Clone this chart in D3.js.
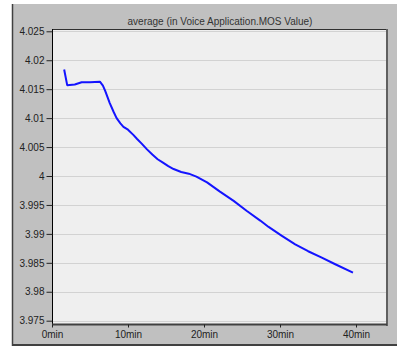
<!DOCTYPE html>
<html>
<head>
<meta charset="utf-8">
<script src="https://cdn.jsdelivr.net/npm/d3@7"></script>
<style>
  body { margin: 0; background: #fff; }
  svg { display: block; }
</style>
</head>
<body>
<svg id="chart" width="397" height="347"></svg>
<script>
// time in minutes, MOS value
const minutes = [1.6, 2.0, 3.0, 3.9, 5.0, 6.3, 6.7, 7.0, 7.6, 8.1, 8.5, 9.0, 9.4, 10.0, 10.7, 11.2,
  11.8, 12.5, 13.2, 13.9, 14.6, 15.3, 16.0, 17.0, 18.0, 19.0, 20.4, 22.1, 23.9, 25.6, 27.4, 28.5,
  30.2, 32.0, 33.7, 35.5, 37.2, 39.6];
const mosValues = [4.0184, 4.0157, 4.0158, 4.0162, 4.0162, 4.0163, 4.0156, 4.0147, 4.0126, 4.0111,
  4.0100, 4.0091, 4.0085, 4.0080, 4.0071, 4.0064, 4.0056, 4.0046, 4.0037, 4.0029, 4.0023, 4.0017,
  4.0012, 4.0007, 4.0004, 3.9999, 3.9989, 3.9973, 3.9957, 3.9940, 3.9923, 3.9912, 3.9897, 3.9882,
  3.9870, 3.9859, 3.9848, 3.9833];
const yTicks = [3.975, 3.98, 3.985, 3.99, 3.995, 4, 4.005, 4.01, 4.015, 4.02, 4.025];
const xTicks = [0, 10, 20, 30, 40];
const title = "average (in Voice Application.MOS Value)";

function drawChart(svgId) {
  let svg = d3.select(svgId);
  let font = "'Liberation Sans', Arial, sans-serif";

  let plotLeft = 52, plotRight = 387, plotTop = 29, plotBottom = 325;

  let x = d3.scaleLinear().domain([0, 40]).range([52, 356]);
  let y = d3.scaleLinear().domain([3.975, 4.025]).range([320.7, 31.3]);

  // outer gray panel
  svg.append("rect")
    .attr("x", 13).attr("y", 4)
    .attr("width", 397 - 13).attr("height", 340)
    .style("fill", "#c0c0c0");
  svg.append("line")
    .attr("x1", 12.5).attr("x2", 12.5).attr("y1", 4).attr("y2", 346)
    .style("stroke", "#404040").style("stroke-width", 1.5);
  svg.append("line")
    .attr("x1", 12).attr("x2", 397).attr("y1", 345).attr("y2", 345)
    .style("stroke", "#404040").style("stroke-width", 2);

  // plot background
  svg.append("rect")
    .attr("x", plotLeft).attr("y", plotTop)
    .attr("width", plotRight - plotLeft).attr("height", plotBottom - plotTop)
    .style("fill", "#efefef");

  // horizontal grid lines
  svg.selectAll(".grid")
    .data(yTicks)
    .enter()
    .append("line")
    .attr("class", "grid")
    .attr("x1", plotLeft).attr("x2", plotRight - 1)
    .attr("y1", d => Math.round(y(d)) + 0.5)
    .attr("y2", d => Math.round(y(d)) + 0.5)
    .style("stroke", "#d2d2d2");

  // plot borders
  svg.append("line")
    .attr("x1", plotLeft).attr("x2", plotRight).attr("y1", plotTop + 0.5).attr("y2", plotTop + 0.5)
    .style("stroke", "#303030");
  svg.append("line")
    .attr("x1", plotRight).attr("x2", plotRight).attr("y1", plotTop).attr("y2", plotBottom + 1)
    .style("stroke", "#606060").style("stroke-width", 2);

  // y axis
  svg.append("g")
    .attr("transform", "translate(" + (plotLeft + 0.5) + ",0)")
    .call(d3.axisLeft(y).tickValues(yTicks).tickSize(6).tickPadding(2)
      .tickFormat(d => d3.format("")(+d.toFixed(3))))
    .call(g => g.select(".domain").attr("d", "M0," + plotTop + "V" + plotBottom).style("stroke", "#000"))
    .call(g => g.selectAll(".tick line").style("stroke", "#222"))
    .selectAll("text")
      .style("font-family", font)
      .style("font-size", "10px")
      .style("fill", "#222");

  // x axis
  svg.append("g")
    .attr("transform", "translate(0," + (plotBottom - 0.5) + ")")
    .call(d3.axisBottom(x).tickValues(xTicks).tickSize(3).tickPadding(3)
      .tickFormat(d => d + "min"))
    .call(g => g.select(".domain").attr("d", "M" + plotLeft + ",0H" + plotRight)
      .style("stroke", "#404040").style("stroke-width", 2))
    .call(g => g.selectAll(".tick line").style("stroke", "#222"))
    .selectAll("text")
      .style("font-family", font)
      .style("font-size", "10px")
      .style("fill", "#222");

  // title
  svg.append("text")
    .attr("x", 220)
    .attr("y", 25)
    .text(title)
    .style("font-family", font)
    .style("text-anchor", "middle")
    .style("font-size", "10px")
    .style("fill", "#333");

  // data line
  let line = d3.line()
    .x((d, i) => x(minutes[i]))
    .y(d => y(d));

  svg.append("path")
    .datum(mosValues)
    .attr("d", line)
    .style("fill", "none")
    .style("stroke", "#1414ff")
    .style("stroke-width", 2)
    .style("stroke-linejoin", "round");
}

drawChart("#chart");
</script>
</body>
</html>
